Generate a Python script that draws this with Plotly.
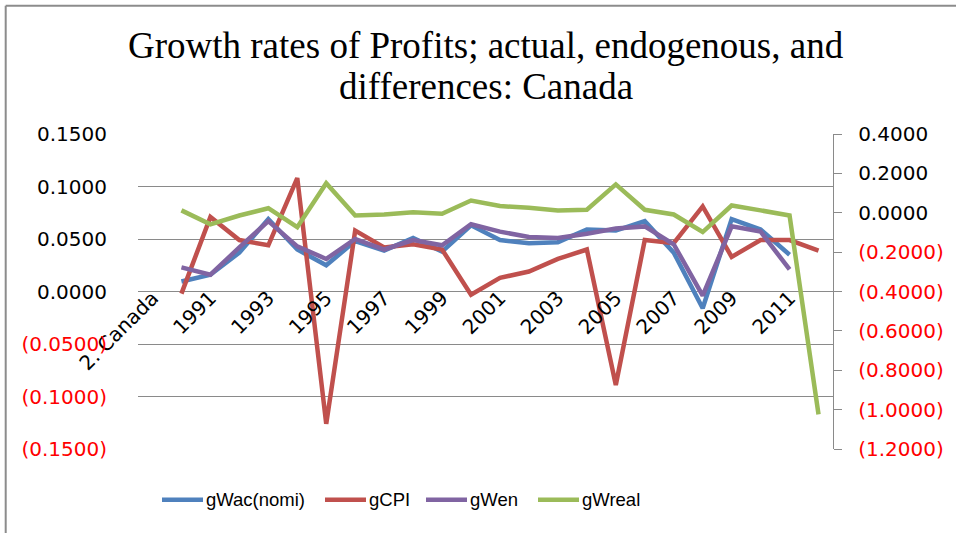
import plotly.graph_objects as go

# category axis: first slot is the country label, then years
categories = ["2. Canada"] + [str(y) for y in range(1990, 2013)]

gwac_nomi = [None, 0.0095, 0.016, 0.037, 0.069, 0.040, 0.025, 0.048, 0.039, 0.051, 0.038,
             0.063, 0.049, 0.046, 0.047, 0.059, 0.058, 0.067, 0.037, -0.016, 0.069, 0.059, 0.035, None]
gcpi = [None, -0.002, 0.071, 0.049, 0.044, 0.108, -0.126, 0.058, 0.042, 0.045, 0.040,
        -0.003, 0.013, 0.019, 0.031, 0.040, -0.089, 0.049, 0.046, 0.081, 0.033, 0.049, 0.049, 0.039]
gwen = [None, 0.023, 0.016, 0.042, 0.067, 0.043, 0.031, 0.050, 0.040, 0.049, 0.044,
        0.064, 0.057, 0.052, 0.051, 0.055, 0.060, 0.062, 0.045, -0.004, 0.062, 0.057, 0.021, None]
gwreal = [None, 0.012, -0.059, -0.014, 0.023, -0.073, 0.150, -0.014, -0.009, 0.003, -0.005,
          0.062, 0.034, 0.025, 0.012, 0.015, 0.144, 0.015, -0.009, -0.098, 0.037, 0.012, -0.014, -1.024]

left_ticks = [0.15, 0.10, 0.05, 0.0, -0.05, -0.10, -0.15]
right_ticks = [0.4, 0.2, 0.0, -0.2, -0.4, -0.6, -0.8, -1.0, -1.2]

title_lines = ["Growth rates of Profits; actual, endogenous, and", "differences: Canada"]

series = [
    ("gWac(nomi)", gwac_nomi, "#4F81BD", "y"),
    ("gCPI", gcpi, "#C0504D", "y"),
    ("gWen", gwen, "#8064A2", "y"),
    ("gWreal", gwreal, "#9BBB59", "y2"),
]

# plot area in pixels, used to place the hand-made legend / frame
PL, PR, PT, PB = 138, 833, 134, 449.3
W, H = 956, 533


def px_x(x):
    return (x - PL) / (PR - PL)


def px_y(y):
    return (PB - y) / (PB - PT)


def acct(v, fmt):
    # Excel style: negatives in red parentheses
    if v < -1e-9:
        return '<span style="color:#ff0000">(' + format(-v, fmt) + ')</span>'
    return format(abs(v), fmt)


fig = go.Figure()
for name, vals, color, ax in series:
    fig.add_trace(go.Scatter(x=categories, y=vals, name=name, mode="lines", yaxis=ax,
                             line=dict(color=color, width=4.5), showlegend=False))

tick_font = dict(family="DejaVu Sans", size=20, color="black")

fig.update_layout(
    width=W, height=H,
    margin=dict(l=PL, r=W - PR, t=PT, b=round(H - PB), autoexpand=False),
    paper_bgcolor="white", plot_bgcolor="white",
    xaxis=dict(type="category", range=[-0.5, 23.5], anchor="free", position=0.5,
               tickmode="array", tickvals=categories[::2], ticktext=categories[::2],
               tickangle=-45, tickfont=tick_font, showgrid=False, showline=False,
               ticks="", ticklen=0, zeroline=False, ticklabelstandoff=-10),
    yaxis=dict(range=[-0.15, 0.15], tickmode="array", tickvals=left_ticks,
               ticktext=[acct(v, ".4f") for v in left_ticks], tickfont=tick_font,
               showgrid=True, gridcolor="#8a8a8a", gridwidth=1.3, zeroline=False,
               showline=False, ticks="", ticklabelstandoff=30),
    yaxis2=dict(range=[-1.2, 0.4], overlaying="y", side="right", tickmode="array",
                tickvals=right_ticks, ticktext=[acct(v, ".4f") for v in right_ticks],
                tickfont=tick_font, showgrid=False, zeroline=False,
                showline=True, linecolor="#8a8a8a", linewidth=1.3,
                ticks="outside", ticklen=8, tickcolor="#8a8a8a", ticklabelstandoff=12),
    showlegend=False,
)

# two-line title, placed as annotations to control the line spacing
for txt, yy in zip(title_lines, [45, 86]):
    fig.add_annotation(text=txt, xref="paper", yref="paper", x=0.5, y=px_y(yy),
                       xanchor="center", yanchor="middle", showarrow=False,
                       font=dict(family="Liberation Serif", size=37, color="black"))

# legend drawn by hand to match the Excel spacing
legend_left = [162, 325, 426, 538]
legend_y = px_y(500)
for (name, _, color, _), x0 in zip(series, legend_left):
    fig.add_shape(type="line", xref="paper", yref="paper",
                  x0=px_x(x0), x1=px_x(x0 + 41), y0=legend_y, y1=legend_y,
                  line=dict(color=color, width=4.5))
    fig.add_annotation(text=name, xref="paper", yref="paper", x=px_x(x0 + 42), y=legend_y,
                       xanchor="left", yanchor="middle", showarrow=False,
                       font=dict(family="Liberation Sans", size=18.5, color="black"))

# chart frame (top and left edges visible in the original)
fig.add_shape(type="line", xref="paper", yref="paper", x0=px_x(5.7), x1=px_x(W + 10),
              y0=px_y(5.7), y1=px_y(5.7), line=dict(color="#8c8c8c", width=2))
fig.add_shape(type="line", xref="paper", yref="paper", x0=px_x(5.7), x1=px_x(5.7),
              y0=px_y(5.7), y1=px_y(H + 10), line=dict(color="#8c8c8c", width=2))

fig.write_html("out.html", config={"displayModeBar": False},
               post_script="document.body.style.margin='0';")
